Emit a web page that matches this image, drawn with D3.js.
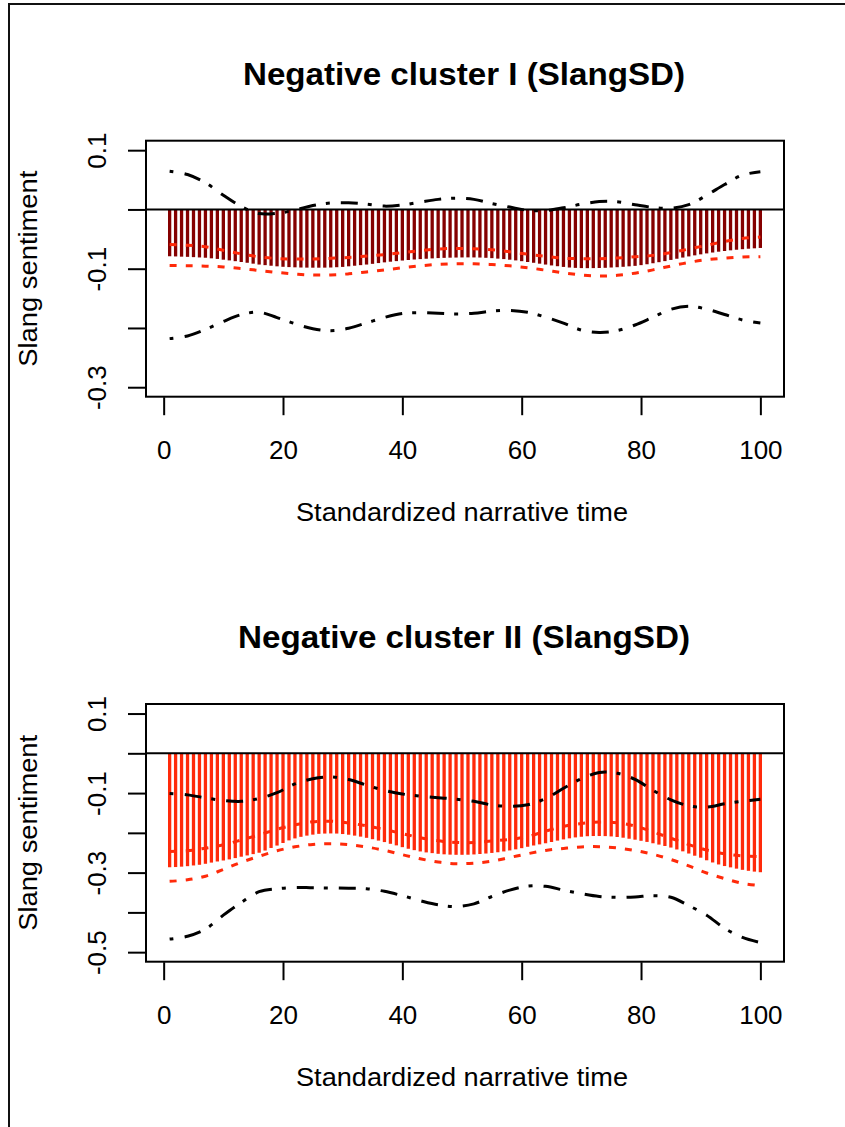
<!DOCTYPE html>
<html>
<head>
<meta charset="utf-8">
<script src="https://cdn.jsdelivr.net/npm/d3@7"></script>
<style>
  html, body { margin: 0; padding: 0; background: #fff; }
  svg { display: block; }
  text { font-family: "Liberation Sans", Arial, Helvetica, sans-serif; fill: #000; }
</style>
</head>
<body>
<svg id="chart" width="845" height="1127"></svg>
<script>
// ---------------- DATA ----------------
const panelTitles = ["Negative cluster I (SlangSD)", "Negative cluster II (SlangSD)"];
const xLabel = "Standardized narrative time";
const yLabel = "Slang sentiment";

const times = d3.range(1, 101);          // narrative time 1..100 (one bar each)
const lineTimes = d3.range(1, 101, 3);   // times at which the band lines were read

const xTicks = [0, 20, 40, 60, 80, 100];
const yTicks1 = [0.1, 0, -0.1, -0.2, -0.3];
const yTickLabels1 = [0.1, -0.1, -0.3];
const yTicks2 = [0.1, 0, -0.1, -0.2, -0.3, -0.4, -0.5];
const yTickLabels2 = [0.1, -0.1, -0.3, -0.5];

// Panel I: bar values (mean sentiment per time step)
const c1Bars = [
 -0.0790,-0.0793,-0.0797,-0.0800,-0.0805,-0.0810,-0.0815,-0.0825,-0.0835,-0.0848,
 -0.0860,-0.0873,-0.0887,-0.0900,-0.0915,-0.0930,-0.0940,-0.0950,-0.0960,-0.0968,
 -0.0973,-0.0977,-0.0980,-0.0982,-0.0983,-0.0983,-0.0982,-0.0980,-0.0975,-0.0970,
 -0.0960,-0.0950,-0.0940,-0.0930,-0.0918,-0.0905,-0.0893,-0.0882,-0.0872,-0.0862,
 -0.0853,-0.0845,-0.0838,-0.0832,-0.0826,-0.0821,-0.0817,-0.0814,-0.0812,-0.0810,
 -0.0809,-0.0810,-0.0812,-0.0816,-0.0822,-0.0830,-0.0838,-0.0848,-0.0860,-0.0873,
 -0.0887,-0.0900,-0.0915,-0.0930,-0.0945,-0.0958,-0.0970,-0.0980,-0.0986,-0.0990,
 -0.0991,-0.0990,-0.0988,-0.0985,-0.0980,-0.0975,-0.0968,-0.0960,-0.0952,-0.0940,
 -0.0925,-0.0908,-0.0890,-0.0872,-0.0852,-0.0832,-0.0812,-0.0793,-0.0775,-0.0758,
 -0.0742,-0.0727,-0.0713,-0.0701,-0.0690,-0.0680,-0.0671,-0.0663,-0.0656,-0.0650
];
const c1RedUpper = [
 -0.0590,-0.0605,-0.0630,-0.0690,-0.0750,-0.0800,-0.0828,-0.0837,-0.0837,-0.0825,
 -0.0810,-0.0787,-0.0762,-0.0730,-0.0695,-0.0668,-0.0658,-0.0664,-0.0680,-0.0715,
 -0.0755,-0.0790,-0.0822,-0.0832,-0.0832,-0.0820,-0.0800,-0.0775,-0.0730,-0.0668,
 -0.0605,-0.0540,-0.0490,-0.0465
];
const c1RedLower = [
 -0.0944,-0.0950,-0.0957,-0.0970,-0.0997,-0.1030,-0.1063,-0.1090,-0.1107,-0.1105,
 -0.1087,-0.1055,-0.1020,-0.0985,-0.0952,-0.0927,-0.0916,-0.0916,-0.0930,-0.0952,
 -0.0983,-0.1025,-0.1070,-0.1105,-0.1124,-0.1112,-0.1075,-0.1020,-0.0955,-0.0893,
 -0.0848,-0.0822,-0.0804,-0.0797
];
const c1BlackUpper = [
 0.0646, 0.0590, 0.0450, 0.0240, 0.0050,-0.0070,-0.0065,-0.0010, 0.0066, 0.0109,
 0.0112, 0.0090, 0.0056, 0.0075, 0.0124, 0.0170, 0.0190, 0.0170, 0.0100, 0.0040,
-0.0015,-0.0020, 0.0028, 0.0088, 0.0132, 0.0130, 0.0080, 0.0035, 0.0022, 0.0080,
 0.0240, 0.0420, 0.0580, 0.0635
];
const c1BlackLower = [
 -0.2180,-0.2135,-0.2025,-0.1890,-0.1775,-0.1735,-0.1825,-0.1928,-0.2013,-0.2046,
 -0.2005,-0.1915,-0.1822,-0.1755,-0.1743,-0.1752,-0.1763,-0.1752,-0.1716,-0.1703,
 -0.1735,-0.1818,-0.1918,-0.2035,-0.2075,-0.2045,-0.1950,-0.1818,-0.1685,-0.1635,
 -0.1683,-0.1773,-0.1865,-0.1915
];

// Panel II
const c2Bars = [
 -0.2865,-0.2860,-0.2850,-0.2838,-0.2820,-0.2803,-0.2778,-0.2748,-0.2720,-0.2695,
 -0.2668,-0.2635,-0.2600,-0.2568,-0.2535,-0.2500,-0.2445,-0.2380,-0.2320,-0.2255,
 -0.2190,-0.2140,-0.2100,-0.2070,-0.2045,-0.2025,-0.2018,-0.2015,-0.2018,-0.2030,
 -0.2047,-0.2070,-0.2095,-0.2125,-0.2160,-0.2195,-0.2232,-0.2275,-0.2315,-0.2360,
 -0.2400,-0.2435,-0.2468,-0.2492,-0.2510,-0.2527,-0.2540,-0.2548,-0.2552,-0.2552,
 -0.2550,-0.2543,-0.2532,-0.2520,-0.2505,-0.2488,-0.2468,-0.2442,-0.2415,-0.2385,
 -0.2350,-0.2318,-0.2290,-0.2262,-0.2230,-0.2195,-0.2165,-0.2138,-0.2115,-0.2098,
 -0.2085,-0.2080,-0.2080,-0.2082,-0.2090,-0.2105,-0.2122,-0.2148,-0.2172,-0.2200,
 -0.2228,-0.2262,-0.2295,-0.2330,-0.2370,-0.2418,-0.2465,-0.2520,-0.2575,-0.2625,
 -0.2690,-0.2745,-0.2795,-0.2835,-0.2868,-0.2900,-0.2930,-0.2955,-0.2975,-0.2990
];
const c2RedUpper = [
 -0.2470,-0.2450,-0.2385,-0.2300,-0.2180,-0.2050,-0.1910,-0.1800,-0.1722,-0.1708,
 -0.1752,-0.1825,-0.1915,-0.2020,-0.2123,-0.2200,-0.2240,-0.2244,-0.2205,-0.2165,
 -0.2095,-0.1956,-0.1840,-0.1765,-0.1729,-0.1745,-0.1830,-0.1975,-0.2135,-0.2295,
 -0.2430,-0.2525,-0.2578,-0.2600
];
const c2RedLower = [
 -0.3220,-0.3180,-0.3090,-0.2920,-0.2740,-0.2590,-0.2450,-0.2352,-0.2290,-0.2275,
 -0.2298,-0.2355,-0.2440,-0.2550,-0.2653,-0.2733,-0.2776,-0.2762,-0.2712,-0.2620,
 -0.2525,-0.2443,-0.2392,-0.2354,-0.2348,-0.2380,-0.2445,-0.2540,-0.2670,-0.2830,
 -0.3010,-0.3150,-0.3270,-0.3327
];
const c2BlackUpper = [
 -0.1013,-0.1045,-0.1120,-0.1185,-0.1207,-0.1135,-0.0990,-0.0770,-0.0640,-0.0593,
 -0.0660,-0.0800,-0.0932,-0.1023,-0.1077,-0.1115,-0.1153,-0.1208,-0.1300,-0.1330,
 -0.1295,-0.1140,-0.0880,-0.0640,-0.0480,-0.0500,-0.0655,-0.0930,-0.1170,-0.1320,
 -0.1352,-0.1270,-0.1205,-0.1156
];
const c2BlackLower = [
 -0.4672,-0.4600,-0.4420,-0.4070,-0.3750,-0.3480,-0.3405,-0.3373,-0.3382,-0.3386,
 -0.3394,-0.3406,-0.3470,-0.3580,-0.3705,-0.3810,-0.3855,-0.3785,-0.3600,-0.3440,
 -0.3340,-0.3345,-0.3440,-0.3530,-0.3600,-0.3622,-0.3612,-0.3580,-0.3620,-0.3830,
 -0.4070,-0.4400,-0.4630,-0.4760
];

// ---------------- DRAWING ----------------
const svg = d3.select("#chart");

// outer frame (top and left edges visible)
svg.append("path")
  .attr("d", d3.line()([[9, 1127], [9, 4], [845, 4]]))
  .attr("fill", "none").attr("stroke", "#111").attr("stroke-width", 2);

const panels = [
  { top: 140.7, bottom: 396.7, yDomain: [-0.316, 0.116], ticks: yTicks1, labels: yTickLabels1,
    bars: c1Bars, barColor: "#850000", redU: c1RedUpper, redL: c1RedLower,
    blkU: c1BlackUpper, blkL: c1BlackLower, title: panelTitles[0], titleLen: 442 },
  { top: 704.0, bottom: 961.7, yDomain: [-0.524, 0.124], ticks: yTicks2, labels: yTickLabels2,
    bars: c2Bars, barColor: "#ff2a0a", redU: c2RedUpper, redL: c2RedLower,
    blkU: c2BlackUpper, blkL: c2BlackLower, title: panelTitles[1], titleLen: 452 }
];

const left = 146, right = 784;
const x = d3.scaleLinear().domain([-2.96, 103.96]).range([left, right]);
const redColor = "#ff2a0a";

panels.forEach(p => {
  const g = svg.append("g");
  const y = d3.scaleLinear().domain(p.yDomain).range([p.bottom, p.top]);

  // bars (type = "h")
  g.append("g").selectAll("line").data(times).join("line")
    .attr("x1", d => x(d)).attr("x2", d => x(d))
    .attr("y1", y(0)).attr("y2", (d, i) => y(p.bars[i]))
    .attr("stroke", p.barColor).attr("stroke-width", 3.3);

  // zero line
  g.append("line")
    .attr("x1", left).attr("x2", right).attr("y1", y(0)).attr("y2", y(0))
    .attr("stroke", "#000").attr("stroke-width", 2);

  const line = vals => d3.line()
    .x((d, i) => x(lineTimes[i])).y(d => y(d))
    .curve(d3.curveCatmullRom.alpha(0.5))(vals);

  [[p.redU, redColor, "7,9"], [p.redL, redColor, "7,9"],
   [p.blkU, "#000", "4,11,17,10"], [p.blkL, "#000", "4,11,17,10"]].forEach(([vals, col, dash]) => {
    g.append("path").attr("d", line(vals))
      .attr("fill", "none").attr("stroke", col).attr("stroke-width", 3)
      .attr("stroke-dasharray", dash);
  });

  // box
  g.append("rect")
    .attr("x", left).attr("y", p.top).attr("width", right - left).attr("height", p.bottom - p.top)
    .attr("fill", "none").attr("stroke", "#000").attr("stroke-width", 2);

  // y axis
  const yAxis = g.append("g").attr("transform", `translate(${left},0)`)
    .call(d3.axisLeft(y).tickValues(p.ticks).tickSize(18)
      .tickFormat(d => p.labels.includes(d) ? d.toFixed(1) : ""));
  yAxis.select(".domain").remove();
  yAxis.selectAll(".tick line").attr("stroke", "#000").attr("stroke-width", 2);
  yAxis.selectAll(".tick text")
    .attr("x", null).attr("dy", null)
    .attr("text-anchor", "middle")
    .attr("transform", "translate(-40,0) rotate(-90)")
    .style("font-size", "26px").style("font-family", "'Liberation Sans', Arial, sans-serif")
    .attr("fill", "#000");

  // x axis
  const xAxis = g.append("g").attr("transform", `translate(0,${p.bottom + 0.5})`)
    .call(d3.axisBottom(x).tickValues(xTicks).tickSize(18).tickFormat(d => String(d)));
  xAxis.select(".domain").remove();
  xAxis.selectAll(".tick line").attr("stroke", "#000").attr("stroke-width", 2);
  xAxis.selectAll(".tick text")
    .attr("y", 61.5).attr("dy", null)
    .style("font-size", "26px").style("font-family", "'Liberation Sans', Arial, sans-serif")
    .attr("fill", "#000");

  // title
  g.append("text")
    .attr("x", 464).attr("y", p.top - 55.7)
    .attr("text-anchor", "middle")
    .attr("textLength", p.titleLen).attr("lengthAdjust", "spacingAndGlyphs")
    .style("font-size", "31px").style("font-weight", "bold")
    .text(p.title);

  // x label
  g.append("text")
    .attr("x", 462).attr("y", p.bottom + 124.5)
    .attr("text-anchor", "middle")
    .attr("textLength", 332).attr("lengthAdjust", "spacingAndGlyphs")
    .style("font-size", "26.5px")
    .text(xLabel);

  // y label
  g.append("text")
    .attr("transform", `translate(37,${(p.top + p.bottom) / 2}) rotate(-90)`)
    .attr("text-anchor", "middle")
    .attr("textLength", 196).attr("lengthAdjust", "spacingAndGlyphs")
    .style("font-size", "26.5px")
    .text(yLabel);
});
</script>
</body>
</html>
